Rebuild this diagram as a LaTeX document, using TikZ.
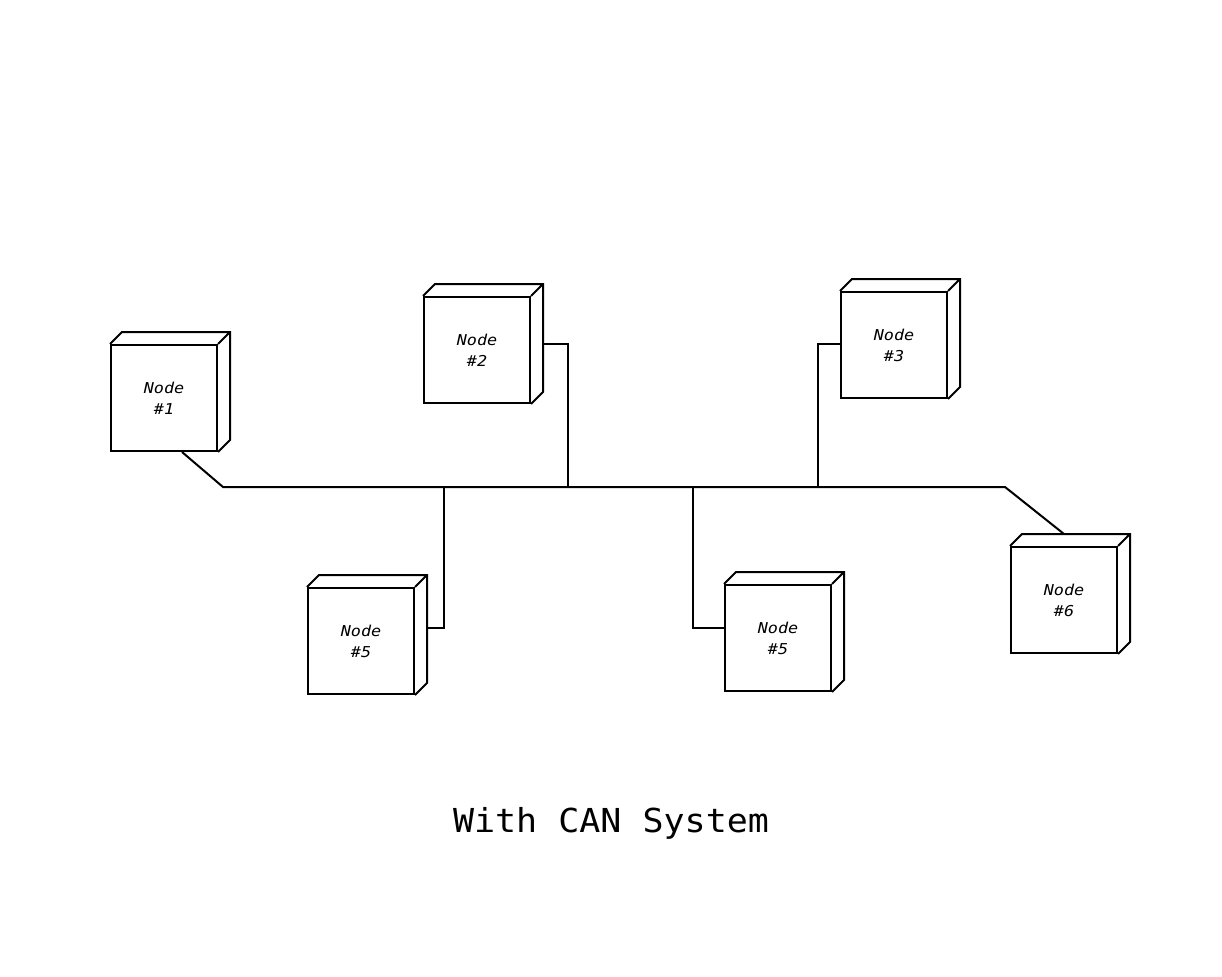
\documentclass[tikz,border=0pt]{standalone}
\usepackage{fontspec}
\newfontfamily\nodefont{DejaVu Sans Mono}[FakeStretch=1.12]
\newfontfamily\titlefont{DejaVu Sans Mono}[FakeStretch=1.06]
\usetikzlibrary{calc}
\tikzset{
  x=1pt, y=-1pt,
  front/.style={draw, line width=2pt, minimum size=106pt, inner sep=0pt,
    font=\nodefont\itshape\fontsize{15}{21}\selectfont, align=center},
  wire/.style={line width=2pt, line join=miter},
  title/.style={font=\titlefont\fontsize{33}{37}\selectfont}
}
\newcommand\cubebox[4]{%
  \node[front] (#1) at (#2,#3) {Node\\\##4};
  \draw[wire] (#1.north west) -- ++(12,-12) -- ($(#1.north east)+(12,-12)$)
    -- ($(#1.south east)+(12,-12)$) -- (#1.south east)
    (#1.north east) -- ++(12,-12);
}
\begin{document}
\begin{tikzpicture}
\useasboundingbox[fill=white] (0,0) rectangle (1222,976);
\cubebox{n1}{164}{398}{1}
\cubebox{n2}{477}{350}{2}
\cubebox{n3}{894}{345}{3}
\cubebox{n5a}{361}{641}{5}
\cubebox{n5b}{778}{638}{5}
\cubebox{n6}{1064}{600}{6}
\coordinate (busL) at (223,487);
\coordinate (busR) at (1005,487);
\coordinate (j2) at (568,487);
\coordinate (j3) at (818,487);
\coordinate (j5a) at (444,487);
\coordinate (j5b) at (693,487);
\draw[wire] ($(n1.south)+(18,0)$) -- (busL) -- (busR) -- ($(n6.north)+(0,-12)$);
\draw[wire] ($(n2.north east)+(12,48)$) -| (j2);
\draw[wire] ($(n3.north west)+(0,53)$) -| (j3);
\draw[wire] ($(n5a.north east)+(12,41)$) -| (j5a);
\draw[wire] ($(n5b.north west)+(0,44)$) -| (j5b);
\node[title] (t) at (611,823) {With CAN System};
\end{tikzpicture}
\end{document}
